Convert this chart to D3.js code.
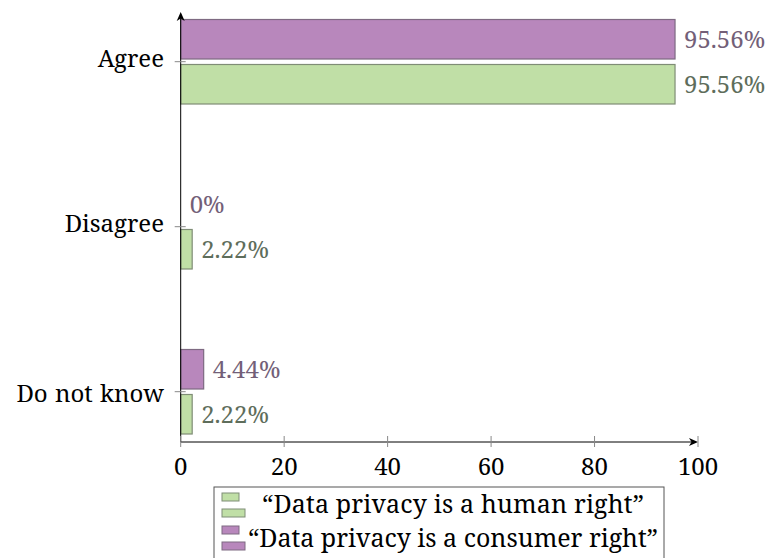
<!DOCTYPE html>
<html><head><meta charset="utf-8">
<script src="https://cdn.jsdelivr.net/npm/d3@7"></script>
<style>
html,body{margin:0;padding:0;background:#fff;}
svg{display:block;}
text{font-family:"Noto Serif","Liberation Serif",serif;}
</style></head>
<body>
<svg id="chart" width="770" height="558"></svg>
<script>
const categories = ["Agree", "Disagree", "Do not know"];
const humanRight = [95.56, 2.22, 2.22];
const consumerRight = [95.56, 0, 4.44];
const xTicks = [0, 20, 40, 60, 80, 100];
const seriesNames = ["\u201CData privacy is a human right\u201D", "\u201CData privacy is a consumer right\u201D"];

const svg = d3.select("#chart");
const x = d3.scaleLinear().domain([0, 100]).range([180.7, 698]);
const y = d3.scalePoint().domain(categories).range([61.7, 391.7]);
const sub = d3.scaleBand().domain(["consumer", "human"]).range([-42.2, 42.3]).paddingInner(0.122);

const series = [
  {key: "human", values: humanRight, fill: "#c0dfa6", stroke: "#7f8d76", text: "#5e6d5b"},
  {key: "consumer", values: consumerRight, fill: "#b887bc", stroke: "#7e6a82", text: "#735f78"}
];

const axisY0 = 442;
// bars
series.forEach(s => {
  const g = svg.append("g");
  categories.forEach((c, i) => {
    const v = s.values[i];
    const top = y(c) + sub(s.key);
    if (v > 0) {
      g.append("rect")
        .attr("x", x(0)).attr("y", top)
        .attr("width", x(v) - x(0)).attr("height", sub.bandwidth())
        .attr("fill", s.fill).attr("stroke", s.stroke).attr("stroke-width", 1.2);
    }
    g.append("text")
      .attr("x", x(v) + 9).attr("y", top + sub.bandwidth() / 2 + 9)
      .attr("font-size", 24).attr("fill", s.text)
      .text(v + "%");
  });
});

// axes
const axis = svg.append("g");
axis.append("line").attr("x1", x(0)).attr("x2", x(0)).attr("y1", axisY0).attr("y2", 14)
  .attr("stroke", "#000").attr("stroke-width", 1);
axis.append("line").attr("x1", x(0)).attr("x2", x(100) - 2).attr("y1", axisY0).attr("y2", axisY0)
  .attr("stroke", "#000").attr("stroke-width", 1);
// arrowheads
axis.append("path").attr("d", `M${x(0)},12 L${x(0)-4},21 L${x(0)},18.5 L${x(0)+4},21 Z`).attr("fill", "#000");
axis.append("path").attr("d", `M${x(100)},${axisY0} L${x(100)-9},${axisY0-4} L${x(100)-6.5},${axisY0} L${x(100)-9},${axisY0+4} Z`).attr("fill", "#000");

// x ticks
xTicks.forEach(t => {
  axis.append("line").attr("x1", x(t)).attr("x2", x(t)).attr("y1", axisY0 - 6).attr("y2", axisY0 + 5)
    .attr("stroke", "#888").attr("stroke-width", 1);
  axis.append("text").attr("x", x(t)).attr("y", 475).attr("text-anchor", "middle")
    .attr("font-size", 24).attr("fill", "#000").text(t);
});
// y ticks
categories.forEach(c => {
  axis.append("line").attr("x1", x(0) - 6).attr("x2", x(0) + 5).attr("y1", y(c)).attr("y2", y(c))
    .attr("stroke", "#888").attr("stroke-width", 1);
  const desc = /[gjpqy]/.test(c);
  axis.append("text").attr("x", 164).attr("y", y(c) + (desc ? 5.5 : 10))
    .attr("text-anchor", "end").attr("font-size", 24).attr("word-spacing", 1)
    .attr("fill", "#000").text(c);
});

// legend
const lg = svg.append("g");
lg.append("rect").attr("x", 214).attr("y", 487).attr("width", 450).attr("height", 90)
  .attr("fill", "#fff").attr("stroke", "#555").attr("stroke-width", 1);
const legendRows = [
  {s: series[0], name: seriesNames[0], iconY: 493, base: 513, len: 382},
  {s: series[1], name: seriesNames[1], iconY: 526, base: 547, len: 410}
];
legendRows.forEach(r => {
  lg.append("rect").attr("x", 222).attr("y", r.iconY).attr("width", 17).attr("height", 8)
    .attr("fill", r.s.fill).attr("stroke", r.s.stroke).attr("stroke-width", 1);
  lg.append("rect").attr("x", 222).attr("y", r.iconY + 16).attr("width", 23).attr("height", 8)
    .attr("fill", r.s.fill).attr("stroke", r.s.stroke).attr("stroke-width", 1);
  lg.append("text").attr("x", 453).attr("y", r.base).attr("text-anchor", "middle")
    .attr("font-size", 25).attr("textLength", r.len).attr("lengthAdjust", "spacing")
    .attr("fill", "#000").text(r.name);
});
</script>
</body></html>
